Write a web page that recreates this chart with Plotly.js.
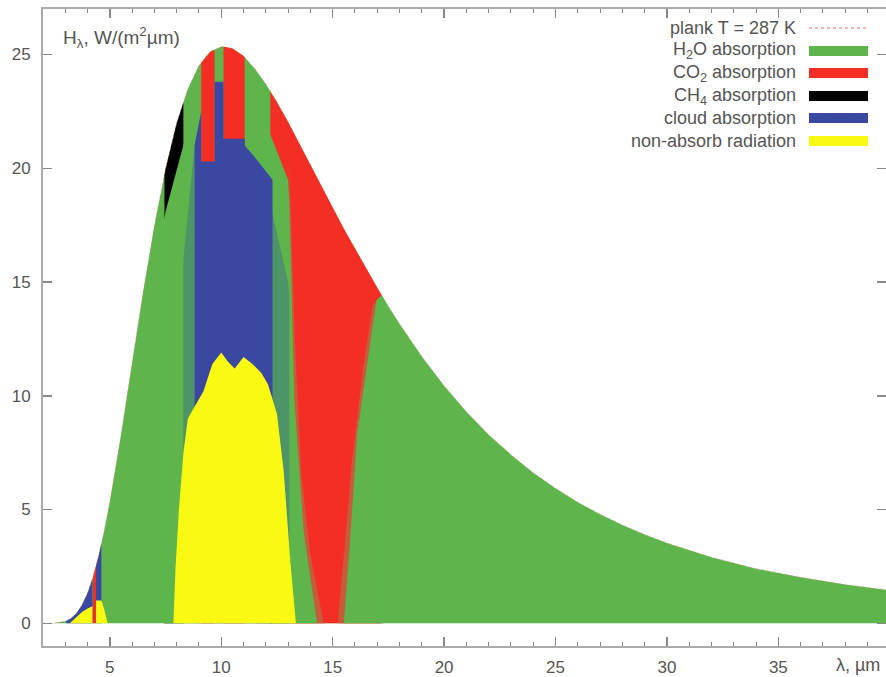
<!DOCTYPE html>
<html>
<head>
<meta charset="utf-8">
<script src="https://cdn.plot.ly/plotly-3.0.1.min.js"></script>
<style>html,body{margin:0;padding:0;overflow:hidden;background:#fff}</style>
</head>
<body>
<div id="chart" style="width:886px;height:677px"></div>
<script>
// Planck curve (T = 287 K), W/(m^2 um)
var planckX = [2,2.5,3,3.25,3.5,3.75,4,4.25,4.5,4.75,5,5.5,6,6.5,7,7.5,8,8.5,9,9.5,10,10.5,11,11.5,12,12.5,13,13.5,14,14.5,15,15.5,16,16.5,17,17.5,18,19,20,21,22,23,24,25,26,27,28,29,30,32,34,36,38,40];
var planckY = [0,0.01,0.086,0.21,0.435,0.80,1.33,2.06,2.98,4.09,5.36,8.28,11.46,14.60,17.49,19.98,21.99,23.49,24.52,25.12,25.35,25.26,24.93,24.39,23.70,22.90,22.03,21.11,20.17,19.22,18.28,17.34,16.46,15.58,14.75,13.93,13.16,11.72,10.44,9.30,8.29,7.41,6.62,5.93,5.32,4.79,4.32,3.90,3.53,2.90,2.40,2.02,1.70,1.45];

// CH4 absorption band (upper boundary)
var ch4X = [7.45,7.45,7.5,8.0,8.3,8.3];
var ch4Y = [0,19.73,19.98,21.99,22.89,0];

// H2O absorption lying below the CH4 strip
var h2oUnderCh4X = [7.40,7.40,7.5,8.0,8.35,8.35];
var h2oUnderCh4Y = [0,17.6,18.1,20.0,21.2,0];

// CO2 absorption bands
var co2X = [4.22,4.22,4.25,4.38,4.38, 9.1,9.1,9.5,9.7,9.7, 10.1,10.1,10.5,11.0,11.05,11.05, 12.2,12.2,12.5,13,13.5,14,14.5,15,15.5,16,16.5,17,17.2,17.2];
var co2Y = [0,1.97,2.06,2.54,0, 0,24.64,25.12,25.21,0, 0,25.35,25.26,24.93,24.88,0, 0,23.38,22.9,22.03,21.11,20.17,19.22,18.28,17.34,16.46,15.58,14.75,14.42,0];

// CO2 / H2O streaky edges of the 15 um band
var co2MixX = [13.05,13.05,13.3,13.6,14.0,14.55,14.6, 15.25,15.25,15.55,15.85,16.4,16.8,17.2,17.2];
var co2MixY = [0,20.5,12.5,6.5,3.0,0.3,0, 0,0.3,3.5,7.0,11.5,14.0,14.42,0];

// H2O absorption on both sides of the 15 um CO2 funnel
var h2oFunnelX = [12.15,12.15,12.6,13.0,13.05,13.28,13.7,14.2,14.3, 15.5,15.8,16.1,16.65,16.96,17.2,17.3,17.3];
var h2oFunnelY = [0,21.6,20.5,19.5,18.6,9.8,4.0,0.5,0, 0,3.95,8.35,12.0,14.2,14.42,14.26,0];

// mixed H2O / cloud streaks
var mixX = [8.3,8.3,8.8,8.8, 11.6,11.6,12.3,13.0,13.05,13.05];
var mixY = [0,16,21,0, 0,20,18,15,14.5,0];

// cloud absorption
var cloudX = [3.04,3.04,3.25,3.5,3.75,4.0,4.22,4.22, 4.38,4.38,4.5,4.62,4.62, 8.8,8.8,9.1,9.1,9.7,9.7,10.1,10.1,11.05,11.05,11.5,12.3,12.3];
var cloudY = [0,0.1,0.21,0.435,0.80,1.33,1.97,0, 0,2.54,2.98,3.51,0, 0,21,22.5,20.3,20.3,23.8,23.8,21.3,21.3,21.0,20.5,19.5,0];

// non-absorbed radiation
var freeX = [3.2,3.5,3.75,4.0,4.22,4.22, 4.38,4.38,4.62,4.75,4.9, 7.85,7.95,8.1,8.3,8.5,8.8,9.2,9.6,10.0,10.3,10.6,11.0,11.4,11.8,12.1,12.5,12.8,13.1,13.3,13.35];
var freeY = [0,0.25,0.5,0.65,0.75,0, 0,1.0,1.0,0.6,0, 0,2.5,5.0,7.5,9.0,9.5,10.2,11.4,11.9,11.5,11.2,11.7,11.4,11.0,10.5,9.2,6.7,2.7,0.5,0];

var legendNames = ['plank T = 287 K','H<sub>2</sub>O absorption','CO<sub>2</sub> absorption','CH<sub>4</sub> absorption','cloud absorption','non-absorb radiation'];
var legendColors = ['#ef9a9a','#5db54b','#f42e24','#000000','#3a48a2','#f9f911'];

var GREEN='#5db54b', RED='#f42e24', BLACK='#000000', BLUE='#3a48a2', YELLOW='#f9f911', MIX='#4f9468', RMIX='#c65c38';

function area(x,y,c,name){
  return {x:x,y:y,type:'scatter',mode:'lines',fill:'tozeroy',fillcolor:c,
          line:{width:0,color:c},name:name,showlegend:false,hoverinfo:'skip'};
}
var traces = [
  area(planckX,planckY,GREEN,'H2O absorption'),
  area(ch4X,ch4Y,BLACK,'CH4 absorption'),
  area(h2oUnderCh4X,h2oUnderCh4Y,GREEN,'H2O absorption'),
  area(co2X,co2Y,RED,'CO2 absorption'),
  area(co2MixX,co2MixY,RMIX,'CO2/H2O mixed'),
  area(h2oFunnelX,h2oFunnelY,GREEN,'H2O absorption'),
  area(mixX,mixY,MIX,'H2O/cloud mixed'),
  area(cloudX,cloudY,BLUE,'cloud absorption'),
  area(freeX,freeY,YELLOW,'non-absorb radiation'),
  {x:planckX,y:planckY,type:'scatter',mode:'lines',line:{width:1,color:'rgba(235,140,140,0.5)',dash:'dot'},showlegend:false,hoverinfo:'skip',name:'plank T = 287 K'}
];

var L=43, T=9, W=886, H=677, B=31, R=0;
var pw=W-L-R, ph=H-T-B;
function px2x(p){return (p-L)/pw;}
function py2y(p){return (H-B-p)/ph;}

var rowsY=[28,51,73,96,118,141];
var annotations=[], shapes=[];
for (var i=0;i<legendNames.length;i++){
  annotations.push({xref:'paper',yref:'paper',x:px2x(798),y:py2y(rowsY[i]),xanchor:'right',yanchor:'middle',
    text:legendNames[i],showarrow:false,font:{size:18,color:'#555'}});
  if(i===0){
    shapes.push({type:'line',xref:'paper',yref:'paper',x0:px2x(809),x1:px2x(868),y0:py2y(rowsY[i]),y1:py2y(rowsY[i]),
      line:{color:legendColors[i],width:1.5,dash:'dot'}});
  } else {
    shapes.push({type:'rect',xref:'paper',yref:'paper',x0:px2x(809),x1:px2x(868),y0:py2y(rowsY[i]+5),y1:py2y(rowsY[i]-5),
      fillcolor:legendColors[i],line:{width:0}});
  }
}
annotations.push({xref:'paper',yref:'paper',x:px2x(61),y:py2y(38),xanchor:'left',yanchor:'middle',
  text:'H<sub>λ</sub>, W/(m<sup>2</sup>µm)',showarrow:false,font:{size:19,color:'#555'}});
annotations.push({xref:'paper',yref:'paper',x:px2x(834),y:py2y(665),xanchor:'left',yanchor:'middle',
  text:'λ, µm',showarrow:false,font:{size:18,color:'#555'}});

var layout = {
  width:W,height:H,
  margin:{l:L,r:R,t:T,b:B,pad:0},
  paper_bgcolor:'#fff',plot_bgcolor:'#fff',
  font:{family:'Liberation Sans, Arial, sans-serif',size:17,color:'#555'},
  showlegend:false,
  xaxis:{range:[2,39.83],tick0:0,dtick:5,ticks:'inside',ticklen:9,tickwidth:1.5,tickcolor:'#888',
    showline:true,linecolor:'#aaa',linewidth:2,mirror:'ticks',showgrid:false,zeroline:false,
    minor:{dtick:1,ticks:'inside',ticklen:4,tickcolor:'#888',tickwidth:1},
    tickfont:{size:17,color:'#555'},ticklabelstandoff:5},
  yaxis:{range:[-1,27],tick0:0,dtick:5,ticks:'inside',ticklen:9,tickwidth:1.5,tickcolor:'#888',
    showline:true,linecolor:'#aaa',linewidth:2,mirror:'ticks',showgrid:false,zeroline:false,
    tickfont:{size:17,color:'#555'},ticklabelstandoff:7},
  annotations:annotations,
  shapes:shapes
};
Plotly.newPlot('chart',traces,layout,{staticPlot:true,displayModeBar:false});
</script>
</body>
</html>
